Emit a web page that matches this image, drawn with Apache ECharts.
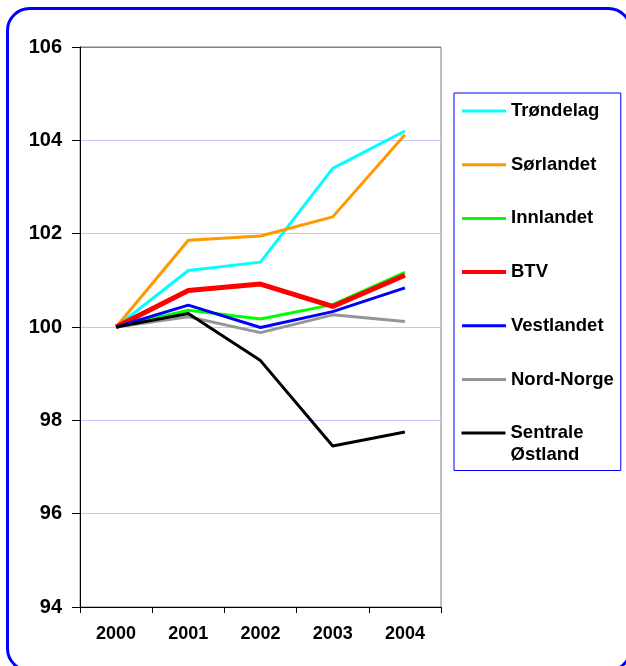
<!DOCTYPE html>
<html>
<head>
<meta charset="utf-8">
<script src="https://cdn.jsdelivr.net/npm/echarts@6/dist/echarts.min.js"></script>
<style>
  html, body { margin: 0; padding: 0; background: #fff; }
  #chart { width: 626px; height: 666px; }
</style>
</head>
<body>
<div id="chart"></div>
<script>
// data
var years = ['2000', '2001', '2002', '2003', '2004'];
var regionNames = ['Trøndelag', 'Sørlandet', 'Innlandet', 'BTV', 'Vestlandet', 'Nord-Norge', 'Sentrale Østland'];
var trondelag = [100, 101.21, 101.39, 103.40, 104.20];
var sorlandet = [100, 101.86, 101.95, 102.36, 104.12];
var innlandet = [100, 100.36, 100.17, 100.48, 101.17];
var btv = [100, 100.78, 100.92, 100.44, 101.11];
var vestlandet = [100, 100.47, 99.99, 100.33, 100.84];
var nordNorge = [100, 100.22, 99.88, 100.26, 100.12];
var sentrale = [100, 100.29, 99.28, 97.45, 97.75];
var yTicks = { min: 94, max: 106, step: 2 };

var font = '"Liberation Sans", Arial, sans-serif';
var colors = ['#00FFFF', '#FF9900', '#00FF00', '#FF0000', '#0000FF', '#969696', '#000000'];
var widths = [3, 3, 3, 5, 3, 3, 3];
var values = [trondelag, sorlandet, innlandet, btv, vestlandet, nordNorge, sentrale];

var series = regionNames.map(function (name, i) {
  return {
    name: name,
    type: 'line',
    data: values[i],
    symbol: 'none',
    color: colors[i],
    lineStyle: { color: colors[i], width: widths[i] }
  };
});

// legend entries with the same stroke width as their lines
var legendItems = regionNames.map(function (name, i) {
  return { name: name, lineStyle: { color: colors[i], width: widths[i] === 5 ? 4 : 3 } };
});

var gridColors = ['#000000', '#c4c4ff', '#c4c4ff', '#c4c4ff', '#c4c4ff', '#c4c4ff', '#808080'];

echarts.init(document.getElementById('chart')).setOption({
  animation: false,
  backgroundColor: '#ffffff',
  textStyle: { fontFamily: font },
  graphic: [{
    type: 'rect',
    shape: { x: 7.5, y: 8.5, width: 623, height: 662, r: 22 },
    style: { fill: 'none', stroke: '#0000FF', lineWidth: 3 },
    silent: true
  }],
  grid: {
    left: 80, right: 185, top: 47, bottom: 59,
    show: true, borderColor: '#808080', borderWidth: 1, backgroundColor: '#ffffff'
  },
  legend: [{
    data: legendItems.slice(0, 6),
    orient: 'vertical',
    left: 454, top: 93,
    padding: [7, 7, 80, 6],
    itemGap: 31.7,
    itemWidth: 44, itemHeight: 14,
    backgroundColor: '#ffffff',
    borderColor: '#0000FF', borderWidth: 1,
    itemStyle: { opacity: 0 },
    textStyle: { fontFamily: font, fontSize: 18.5, fontWeight: 'bold', color: '#000', lineHeight: 22 },
    selectedMode: false
  }, {
    data: legendItems.slice(6),
    orient: 'vertical',
    left: 460, top: 400,
    padding: 0,
    z: 5,
    itemWidth: 44, itemHeight: 14,
    itemStyle: { opacity: 0 },
    formatter: function (name) { return ' \n' + name.replace(' ', '\n'); },
    textStyle: { fontFamily: font, fontSize: 18.5, fontWeight: 'bold', color: '#000', lineHeight: 22 },
    selectedMode: false
  }],
  xAxis: {
    type: 'category',
    data: years,
    boundaryGap: true,
    axisLine: { lineStyle: { color: '#000', width: 1 } },
    axisTick: { show: true, length: 6, lineStyle: { color: '#000' } },
    axisLabel: { color: '#000', fontSize: 18, fontWeight: 'bold', fontFamily: font, margin: 18 },
    splitLine: { show: false }
  },
  yAxis: {
    type: 'value',
    min: yTicks.min, max: yTicks.max, interval: yTicks.step,
    axisLine: { show: true, lineStyle: { color: '#000', width: 1 } },
    axisTick: { show: true, length: 8, lineStyle: { color: '#000' } },
    axisLabel: { color: '#000', fontSize: 20, fontWeight: 'bold', fontFamily: font, margin: 18 },
    splitLine: { show: true, lineStyle: { color: gridColors, width: 1 } }
  },
  series: series
});
</script>
</body>
</html>
